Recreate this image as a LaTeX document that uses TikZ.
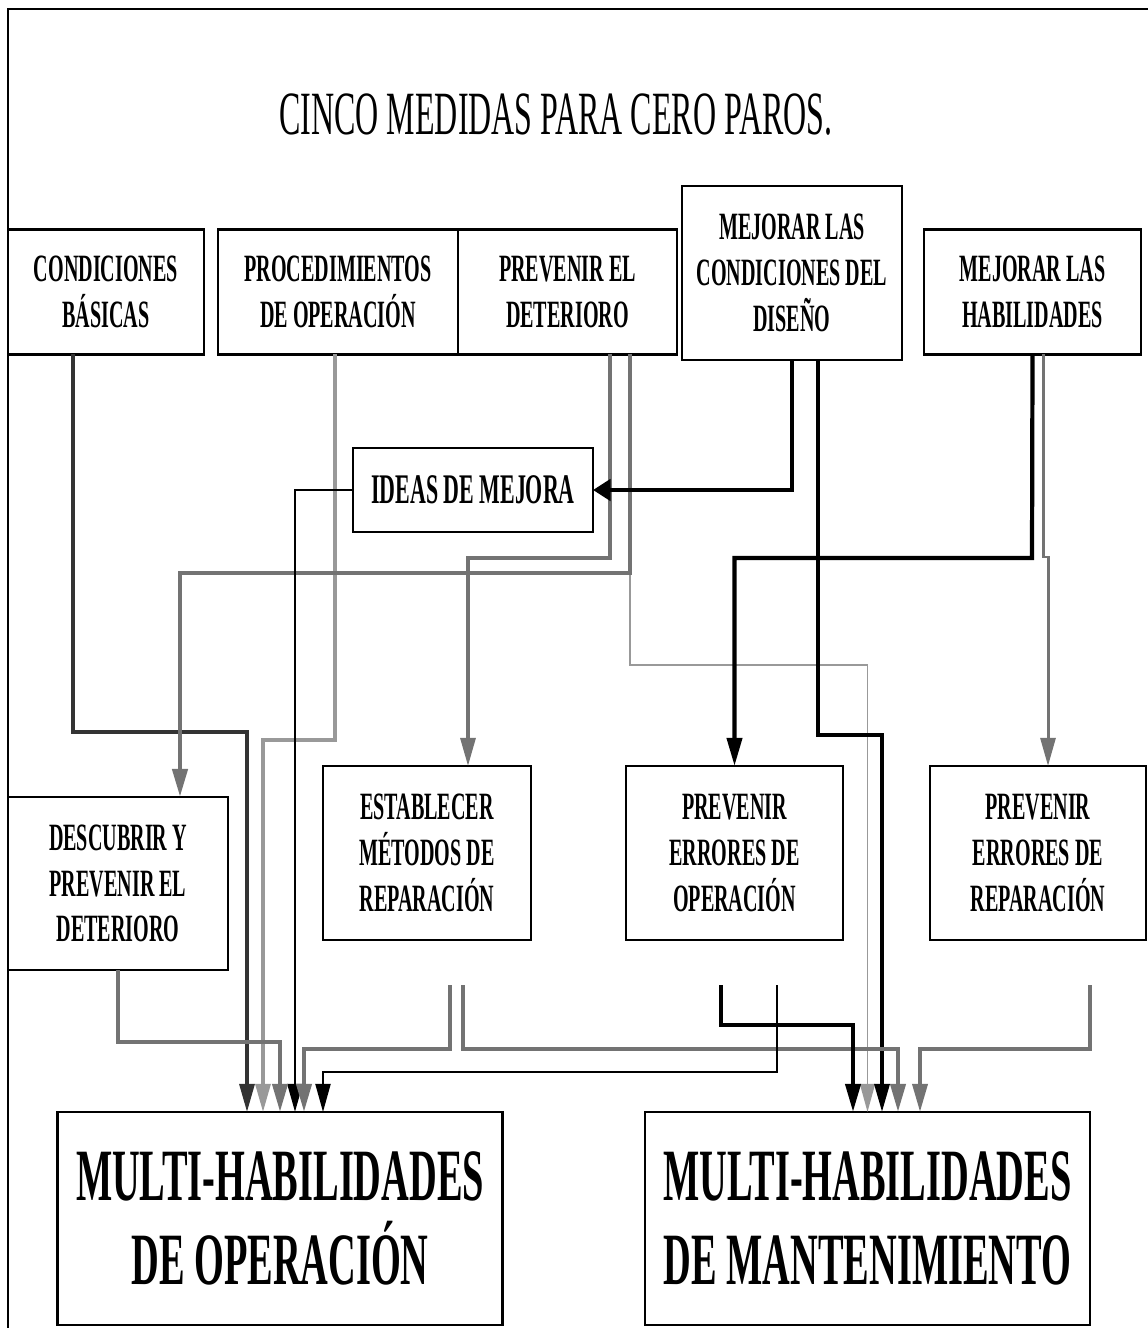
\documentclass[tikz,border=0pt]{standalone}
\usepackage{fontspec}
\usepackage{tikz}
\usetikzlibrary{positioning, arrows.meta}
\newfontfamily\narrowfont[FakeStretch=0.52]{Liberation Serif}

\begin{document}
\begin{tikzpicture}[
			x=0.02cm, y=-0.02cm,
			>={Triangle[length=16pt, width=8.5pt]},
			box/.style={
				draw=black, line width=1.3pt, outer sep=0pt, inner sep=0pt,
				align=center, minimum width=4.4cm, minimum height=2.5cm,
				font=\narrowfont\bfseries\fontsize{22pt}{26pt}\selectfont
			},
			bigbox/.style={box, minimum width=8.9cm, minimum height=4.26cm,
				font=\narrowfont\bfseries\fontsize{42pt}{48pt}\selectfont},
			link/.style={->, line width=#1}, link/.default=1.9pt,
			blackln/.style={link=#1, black}, blackln/.default=2.4pt,
			darkln/.style={link=#1, black!80}, darkln/.default=1.9pt,
			greyln/.style={link=#1, black!55}, greyln/.default=2.4pt,
			lightln/.style={link=#1, black!40}, lightln/.default=1.9pt
			]
			\useasboundingbox (0,0) rectangle (1148,1328);
			\draw[line width=1.6pt] (8,1328) -- (8,9) -- (1148,9);
			
			% 1. TITLE & TOP ROW (five measures)
			\node[font=\narrowfont\fontsize{35pt}{40pt}\selectfont] (title) at (556,115) {CINCO MEDIDAS PARA CERO PAROS.};
			\node[box, minimum width=3.92cm] (cond) at (106,292) {CONDICIONES\\BÁSICAS};
			\node[box, minimum width=4.8cm] (proc) at (338,292) {PROCEDIMIENTOS\\DE OPERACIÓN};
			\node[box, minimum width=4.38cm, right=0pt of proc] (prev) {PREVENIR EL\\DETERIORO};
			\node[box, minimum height=3.48cm] (dis) at (792,273) {MEJORAR LAS\\CONDICIONES DEL\\DISEÑO};
			\node[box, minimum width=4.34cm] (hab) at (1032.5,292) {MEJORAR LAS\\HABILIDADES};
			
			% 2. MIDDLE & ACTION BOXES
			\node[box, minimum width=4.8cm, minimum height=1.68cm,
			font=\narrowfont\bfseries\fontsize{24pt}{28pt}\selectfont] (ideas) at (473,490) {IDEAS DE MEJORA};
			\node[box, minimum height=3.46cm] (desc) at (118,883.5) {DESCUBRIR Y\\PREVENIR EL\\DETERIORO};
			\node[box, minimum width=4.16cm, minimum height=3.48cm] (est) at (427,853) {ESTABLECER\\MÉTODOS DE\\REPARACIÓN};
			\node[box, minimum width=4.34cm, minimum height=3.48cm] (peo) at (734.5,853) {PREVENIR\\ERRORES DE\\OPERACIÓN};
			\node[box, minimum width=4.32cm, minimum height=3.48cm] (per) at (1038,853) {PREVENIR\\ERRORES DE\\REPARACIÓN};
			
			% 3. RESULTS (bottom)
			\node[bigbox] (mhop) at (280,1218.5) {MULTI-HABILIDADES\\DE OPERACIÓN};
			\node[bigbox] (mhman) at (867.5,1218.5) {MULTI-HABILIDADES\\DE MANTENIMIENTO};
			
			% 4. CONNECTORS FROM THE TOP ROW
			\draw[darkln] (cond.south -| 73,0) |- (247,732) -- (mhop.north -| 247,0);
			\draw[lightln] (proc.south -| 335,0) |- (263,740) -- (mhop.north -| 263,0);
			\draw[greyln=1.9pt] (prev.south -| 610,0) |- (468,558) -- (est.north -| 468,0);
			\draw[lightln=1pt] (prev.south -| 630,0) -- (630,665) -| (mhman.north);
			\draw[greyln=2.6pt] (prev.south -| 630,0) |- (180,573) -- (desc.north -| 180,0);
			\draw[blackln=2.6pt, -{Triangle[length=10pt, width=12pt]}] (dis.south) |- (ideas.east);
			\draw[blackln=2pt] (dis.south -| 818,0) |- (882,735) -- (mhman.north -| 882,0);
			\draw[blackln=1.6pt] (ideas.west) -| (mhop.north -| 295,0);
			\draw[blackln] (hab.south) -- (1032,558) -| (peo.north);
			\draw[greyln=1.7pt] (hab.south -| 1043,0) -- (1043,557) -- (1048,557) -- (per.north -| 1048,0);
			
			% 5. CONNECTORS INTO THE RESULTS
			\coordinate (estA) at (450,985);
			\coordinate (estB) at (463,985);
			\coordinate (peoA) at (721,985);
			\coordinate (peoB) at (777,985);
			\coordinate (perA) at (1090,985);
			\draw[greyln] (desc.south) -- (118,1042) -| (mhop.north);
			\draw[greyln] (estA) -- (450,1049) -| (mhop.north -| 304,0);
			\draw[greyln] (estB) -- (463,1049) -| (mhman.north -| 898,0);
			\draw[blackln] (peoA) -- (721,1025) -| (mhman.north -| 853,0);
			\draw[blackln=1.3pt] (peoB) -- (777,1072) -| (mhop.north -| 323,0);
			\draw[greyln=2.2pt] (perA) -- (1090,1049) -| (mhman.north -| 920,0);
		\end{tikzpicture}
\end{document}
